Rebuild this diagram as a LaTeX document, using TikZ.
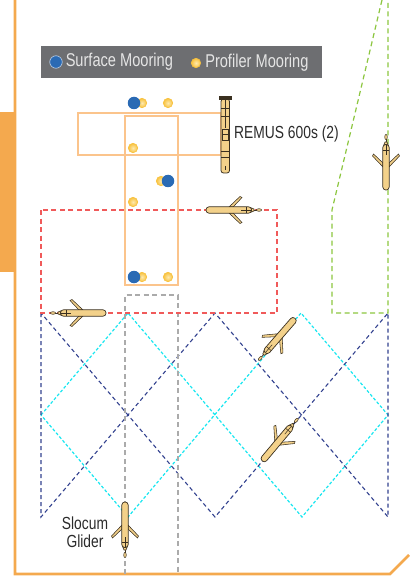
\documentclass[tikz,border=0pt]{standalone}
\usepackage{fontspec}
\newfontfamily\labelfont{Liberation Sans}[FakeStretch=0.79]
\usetikzlibrary{positioning}

\definecolor{frameorange}{HTML}{F4A94E}
\definecolor{boxorange}{HTML}{FBC48C}
\definecolor{legendgray}{HTML}{6D6E71}
\definecolor{moorblue}{HTML}{2A6AB4}
\definecolor{mooryellow}{HTML}{F8C23E}
\definecolor{moorlight}{HTML}{FEE9AE}
\definecolor{redline}{HTML}{F05A5A}
\definecolor{greenline}{HTML}{8CC63F}
\definecolor{navyline}{HTML}{33428F}
\definecolor{cyanline}{HTML}{19E6F0}
\definecolor{grayline}{HTML}{ABABAB}
\definecolor{hull}{HTML}{F3D18A}
\definecolor{hulledge}{HTML}{3A3020}
\definecolor{labelgray}{HTML}{2B2B2B}

% glider seen from above, nose along +x
\tikzset{
  glider/.pic={
    \draw[hulledge, fill=hull, line width=0.55pt] (3,3) -- (-8,13.5) -- (-10,12.5) -- (-1,3) -- cycle;
    \draw[hulledge, fill=hull, line width=0.55pt] (3,-3) -- (-8,-13.5) -- (-10,-12.5) -- (-1,-3) -- cycle;
    \draw[hulledge, line width=0.8pt] (-19,0) -- (-29,0);
    \draw[hulledge, fill=hull, line width=0.5pt] (-27,0) ellipse (2.6 and 1.3);
    \draw[hulledge, fill=hull, line width=0.6pt] (-19,-2.2) -- (-22,-1) -- (-22,1) -- (-19,2.2) -- cycle;
    \draw[hulledge, fill=hull, line width=0.7pt, rounded corners=3pt] (-19.5,-3.2) rectangle (26,3.2);
    \draw[hulledge, line width=0.5pt] (-19,0) -- (-9,0) (-14,-3) -- (-14,3);
  }
}

\begin{document}
\begin{tikzpicture}[x=1pt, y=-1pt,
    frame/.style={frameorange, line width=2.8pt},
    area/.style={boxorange, line width=1.2pt},
    track/.style={line width=1.2pt, dash pattern=on 5pt off 3.5pt},
    surface/.style={circle, fill=moorblue, inner sep=0pt, minimum size=12.5pt},
    profiler/.style={circle, draw=mooryellow, line width=0.6pt, inner color=moorlight, outer color=mooryellow, inner sep=0pt, minimum size=9.5pt},
    legendtext/.style={text=white!90!black, font=\labelfont\fontsize{18.5}{20}\selectfont, inner sep=0pt, anchor=west},
    label/.style={text=labelgray, font=\labelfont\fontsize{17.5}{18.5}\selectfont, inner sep=0pt, align=center}
  ]
  \useasboundingbox (0,0) rectangle (409,577);

  % outer frame and side tab
  \fill[frameorange] (0,112) rectangle (14,272);
  \draw[frame] (15,0) -- (15,574) -- (390,574) -- (409,555);

  % survey tracks
  \draw[track, cyanline, dash pattern=on 3pt off 2pt] (41,415) -- (128,313) -- (302,517) -- (388,415) -- (301,313) -- (128,517) -- cycle;
  \draw[track, navyline, line width=1.1pt, dash pattern=on 4pt off 3pt] (41,313) -- (41,517) -- (215,313) -- (388,517) -- (388,313) -- (215,517) -- cycle;
  \draw[track, grayline] (125,574) -- (125,295) -- (178,295) -- (178,574);
  \draw[track, redline] (41,210) rectangle (277,313);
  \draw[track, greenline] (382,0) -- (332,210) -- (332,313) -- (388,313) -- (388,0);

  % mooring array footprint
  \draw[area] (78,113) rectangle (221,155);
  \draw[area] (125,116) rectangle (178,285);

  % moorings
  \node[profiler] (p1) at (142,103) {};
  \node[profiler] (p2) at (168,103) {};
  \node[surface] (s1) at (134,103) {};
  \node[profiler] (p3) at (133,148) {};
  \node[profiler] (p4) at (161,181) {};
  \node[surface] (s2) at (168,181) {};
  \node[profiler] (p5) at (133,202) {};
  \node[profiler] (p6) at (142,277) {};
  \node[profiler] (p7) at (168,277) {};
  \node[surface] (s3) at (134,277) {};

  % legend
  \node[fill=legendgray, minimum width=281pt, minimum height=32pt, inner sep=0pt] (legend) at (181.5,62) {};
  \node[surface, draw=white!70!moorblue, line width=0.6pt] (keysurface) at (56,62) {};
  \node[legendtext, right=3pt of keysurface] (keysurfacetext) {Surface Mooring};
  \node[profiler] (keyprofiler) at (196,63) {};
  \node[legendtext, right=4pt of keyprofiler] (keyprofilertext) {Profiler Mooring};

  % REMUS vehicle
  \draw[hulledge, fill=hull, line width=0.8pt, rounded corners=2.5pt] (221,99) rectangle (229.5,173);
  \fill[hulledge] (219,96) rectangle (231.5,100);
  \draw[hulledge, line width=0.7pt] (225.2,100) -- (225.2,128) (221,108) -- (229.5,108) (221,116) -- (229.5,116);
  \draw[hulledge, line width=0.7pt] (222,129) rectangle (228.5,140) (222,134.5) -- (228.5,134.5);
  \draw[hulledge, line width=0.7pt] (221,151) -- (229.5,151) (221,157) -- (229.5,157) (225.2,166) -- (225.2,170);
  \node[label, anchor=west] (remus) at (234,134) {REMUS 600s (2)};

  % gliders
  \pic[rotate=0] (g1) at (80,313) {glider};
  \pic[rotate=180] (g2) at (232,210) {glider};
  \pic[rotate=-90] (g3) at (386,164) {glider};
  \pic[rotate=49] (g4) at (278,338) {glider};
  \pic[rotate=-130] (g5) at (279,441) {glider};
  \pic[rotate=90] (g6) at (125,528) {glider};
  \node[label] (slocum) at (85,532) {Slocum\\Glider};
\end{tikzpicture}
\end{document}
